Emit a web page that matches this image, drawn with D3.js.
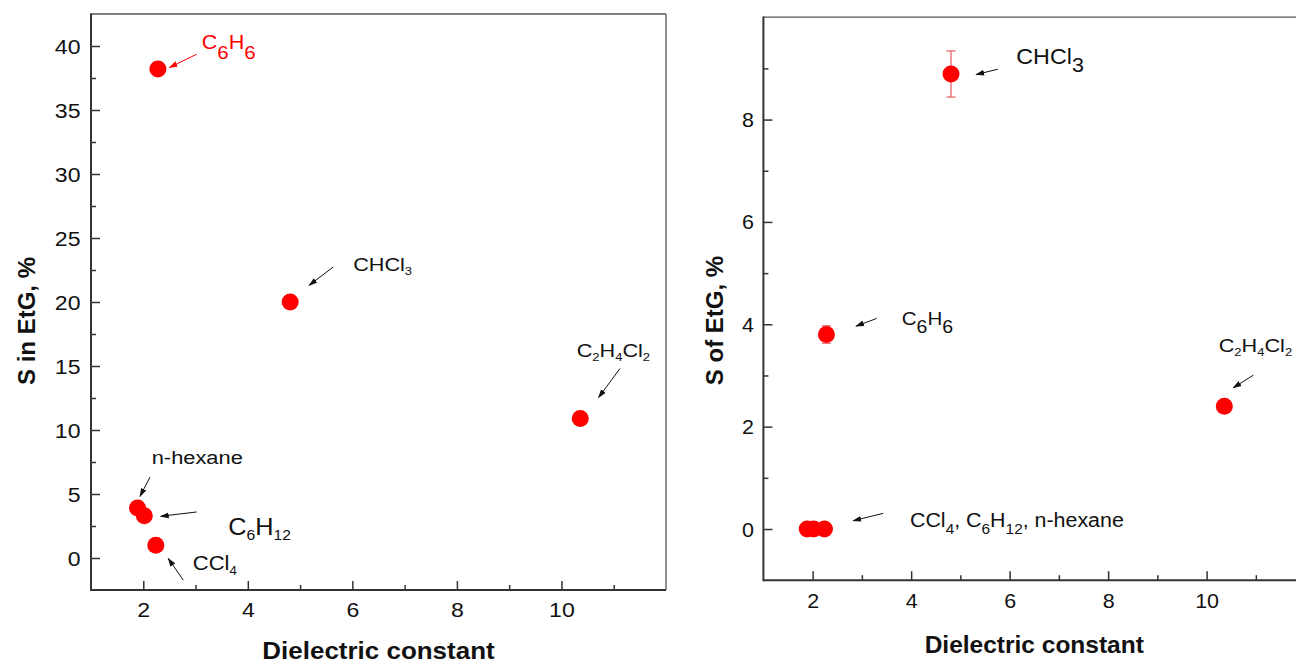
<!DOCTYPE html>
<html><head><meta charset="utf-8">
<script src="https://cdn.jsdelivr.net/npm/d3@7"></script>
<style>
body{margin:0;background:#fff}
svg{display:block;font-family:"Liberation Sans",Arial,sans-serif}
</style>
</head><body>
<svg id="c" width="1296" height="665"></svg>
<script>
// ---------- data ----------
const solvents   = ["n-hexane", "C6H12", "CCl4", "C6H6", "CHCl3", "C2H4Cl2"];
const dielectric = [1.89, 2.02, 2.24, 2.28, 4.81, 10.36];
const sInEtG     = [3.9, 3.3, 1.0, 38.2, 20.0, 10.9];
const sOfEtG     = [0, 0, 0, 3.8, 8.89, 2.4];
const sOfEtGErr  = [0, 0, 0, 0.17, 0.45, 0];
const xTicks      = [2, 4, 6, 8, 10];
const xMinorTicks = [3, 5, 7, 9, 11];
const leftYTicks      = [0, 5, 10, 15, 20, 25, 30, 35, 40];
const leftYMinorTicks = [2.5, 7.5, 12.5, 17.5, 22.5, 27.5, 32.5, 37.5];
const rightYTicks      = [0, 2, 4, 6, 8];
const rightYMinorTicks = [1, 3, 5, 7, 9];
const xTitle = "Dielectric constant";
const leftYTitle = "S in EtG, %";
const rightYTitle = "S of EtG, %";
const rightGroupLabel = "CCl4, C6H12, n-hexane";

// ---------- helpers ----------
const svg = d3.select("#c");
const RED = "#ff0000";

function parts(str){
  return str.split(/(\d+)/).filter(s => s.length).map(s => ({t: s, sub: /^\d+$/.test(s)}));
}
function rich(parent, x, y, str, o){
  const g = parent.append("g")
    .attr("transform", `translate(${x},${y}) ${o.rotate ? "rotate(" + o.rotate + ")" : ""} scale(${o.sx == null ? 1.12 : o.sx},1)`);
  const t = g.append("text")
    .attr("text-anchor", o.anchor || "start")
    .attr("font-size", o.size)
    .attr("font-weight", o.weight || "normal")
    .attr("fill", o.fill || "#111");
  let shift = 0;
  parts(str).forEach(p => {
    const ts = t.append("tspan").text(p.t);
    const target = p.sub ? (o.subDy || 0) : 0;
    if (target - shift !== 0) ts.attr("dy", target - shift);
    shift = target;
    if (p.sub) ts.attr("font-size", o.size * (o.subScale || 0.6));
  });
  return t;
}

const defs = svg.append("defs");
function marker(id, color){
  defs.append("marker").attr("id", id)
    .attr("markerUnits", "userSpaceOnUse")
    .attr("markerWidth", 9).attr("markerHeight", 7)
    .attr("refX", 8).attr("refY", 3.5).attr("orient", "auto")
    .append("path").attr("d", "M0,0.6 L9,3.5 L0,6.4 Z").attr("fill", color);
}
marker("arrK", "#111");
marker("arrR", RED);

function panel(cfg){
  const x = d3.scaleLinear().domain(cfg.xDomain).range(cfg.xRange);
  const y = d3.scaleLinear().domain(cfg.yDomain).range(cfg.yRange);
  const g = svg.append("g");
  const [x0, x1] = cfg.xRange, [y0, y1] = cfg.yRange;

  // ticks (inward)
  const styleAxis = sel => sel.attr("font-family", null).attr("font-size", null)
      .call(s => s.select(".domain").remove())
      .call(s => s.selectAll(".tick line").attr("stroke", "#333").attr("stroke-width", 1.5));

  g.append("g").attr("transform", `translate(0,${y0})`)
    .call(d3.axisBottom(x).tickValues(xMinorTicks).tickSize(-5).tickFormat(""))
    .call(styleAxis);
  g.append("g").attr("transform", `translate(0,${y0})`)
    .call(d3.axisBottom(x).tickValues(xTicks).tickSize(-9).tickFormat(d3.format("d")))
    .call(styleAxis)
    .call(s => s.selectAll(".tick text")
      .attr("y", cfg.xLabelBase).attr("dy", null)
      .attr("font-size", cfg.tickSize).attr("fill", "#111")
      .attr("transform", `scale(${cfg.tickSx},1)`));

  g.append("g").attr("transform", `translate(${x0},0)`)
    .call(d3.axisLeft(y).tickValues(cfg.yMinor).tickSize(-5).tickFormat(""))
    .call(styleAxis);
  g.append("g").attr("transform", `translate(${x0},0)`)
    .call(d3.axisLeft(y).tickValues(cfg.yTicks).tickSize(-9).tickFormat(d3.format("d")))
    .call(styleAxis)
    .call(s => s.selectAll(".tick text")
      .attr("x", -cfg.yLabelGap / cfg.tickSx).attr("dy", "0.36em")
      .attr("font-size", cfg.tickSize).attr("fill", "#111")
      .attr("transform", `scale(${cfg.tickSx},1)`));

  // frame
  g.append("line").attr("x1", x0).attr("x2", x1).attr("y1", y1).attr("y2", y1).attr("stroke", "#555").attr("stroke-width", 1.3);
  g.append("line").attr("x1", x1).attr("x2", x1).attr("y1", y1).attr("y2", y0).attr("stroke", "#555").attr("stroke-width", 1.3);
  g.append("line").attr("x1", x0).attr("x2", x1).attr("y1", y0).attr("y2", y0).attr("stroke", "#333").attr("stroke-width", 2);
  g.append("line").attr("x1", x0).attr("x2", x0).attr("y1", y1 - 0.6).attr("y2", y0 + 1).attr("stroke", "#333").attr("stroke-width", 2);

  // titles
  rich(g, (x0 + x1) / 2, cfg.xTitleBase, xTitle,
       {size: 24.5, weight: "bold", anchor: "middle", sx: cfg.xTitleSx, fill: "#111"});
  rich(g, cfg.yTitleX, cfg.yTitleY, cfg.yTitle,
       {size: 24, weight: "bold", anchor: "middle", rotate: -90, sx: 1, fill: "#111"});

  // data
  const pts = solvents.map((s, i) => ({s, x: dielectric[i], y: cfg.values[i], e: cfg.errors ? cfg.errors[i] : 0}));
  const eb = g.append("g").attr("stroke", "#e8636d").attr("stroke-width", 1.3);
  pts.filter(d => d.e > 0).forEach(d => {
    eb.append("line").attr("x1", x(d.x)).attr("x2", x(d.x)).attr("y1", y(d.y - d.e)).attr("y2", y(d.y + d.e));
    [d.y - d.e, d.y + d.e].forEach(v => eb.append("line")
      .attr("x1", x(d.x) - 4.5).attr("x2", x(d.x) + 4.5).attr("y1", y(v)).attr("y2", y(v)));
  });
  g.append("g").selectAll("circle").data(pts).join("circle")
    .attr("cx", d => x(d.x)).attr("cy", d => y(d.y)).attr("r", 8.5).attr("fill", RED);

  // annotations (offsets in px relative to the anchor point)
  cfg.notes.forEach(n => {
    const d = pts.find(p => p.s === n.anchor);
    const px = x(d.x), py = y(d.y);
    const col = n.red ? RED : "#111";
    g.append("line")
      .attr("x1", px + n.a[0]).attr("y1", py + n.a[1])
      .attr("x2", px + n.a[2]).attr("y2", py + n.a[3])
      .attr("stroke", col).attr("stroke-width", 1)
      .attr("marker-end", n.red ? "url(#arrR)" : "url(#arrK)");
    rich(g, px + n.t[0], py + n.t[1], n.label,
         {size: n.size, fill: col, subScale: n.subScale, subDy: n.subDy, sx: n.sx});
  });
}

// ---------- left panel ----------
panel({
  xDomain: [1, 12], xRange: [91, 666],
  yDomain: [-2.5, 42.5], yRange: [590, 14],
  yTicks: leftYTicks, yMinor: leftYMinorTicks,
  values: sInEtG,
  tickSize: 21, tickSx: 1.1, xLabelBase: 27, yLabelGap: 10.5,
  xTitleBase: 659, xTitleSx: 1.06,
  yTitle: leftYTitle, yTitleX: 35, yTitleY: 321,
  notes: [
    {anchor: "C6H6", label: "C6H6", red: true, a: [38.8, -14.8, 11.6, -1.6], t: [43.8, -20.5], size: 20, subScale: 0.95, subDy: 10, sx: 1.08},
    {anchor: "CHCl3", label: "CHCl3", a: [43, -35, 19, -16.7], t: [63, -31], size: 19, subScale: 0.6, subDy: 4, sx: 1.14},
    {anchor: "C2H4Cl2", label: "C2H4Cl2", a: [39.7, -50, 18.4, -21], t: [-3.6, -61.7], size: 19, subScale: 0.6, subDy: 4, sx: 1.14},
    {anchor: "n-hexane", label: "n-hexane", a: [12.5, -31, 2.5, -11.8], t: [14.2, -44.5], size: 19, sx: 1.15},
    {anchor: "C6H12", label: "C6H12", a: [52.4, -3.8, 16.4, 0.5], t: [84, 19.5], size: 23, subScale: 0.62, subDy: 5, sx: 1.1},
    {anchor: "CCl4", label: "CCl4", a: [27.5, 35, 12.5, 13.3], t: [37, 25], size: 20, subScale: 0.6, subDy: 5, sx: 1.1}
  ]
});

// ---------- right panel ----------
panel({
  xDomain: [1, 12], xRange: [763.4, 1305.1],
  yDomain: [-1, 10], yRange: [580.2, 17.2],
  yTicks: rightYTicks, yMinor: rightYMinorTicks,
  values: sOfEtG, errors: sOfEtGErr,
  tickSize: 19.5, tickSx: 1.1, xLabelBase: 28, yLabelGap: 9.5,
  xTitleBase: 653, xTitleSx: 1.0,
  yTitle: rightYTitle, yTitleX: 723, yTitleY: 320.5,
  notes: [
    {anchor: "CHCl3", label: "CHCl3", a: [46.8, -4.8, 25.2, 0.5], t: [65.2, -10.5], size: 22, subScale: 0.92, subDy: 8, sx: 1.06},
    {anchor: "C6H6", label: "C6H6", a: [50.3, -16.1, 29.6, -8.4], t: [75.3, -9.4], size: 19, subScale: 0.95, subDy: 8, sx: 1.08},
    {anchor: "C2H4Cl2", label: "C2H4Cl2", a: [29, -31, 9, -18.4], t: [-5.6, -54.4], size: 19, subScale: 0.6, subDy: 4, sx: 1.14},
    {anchor: "CCl4", label: rightGroupLabel, a: [58.8, -15.7, 28.8, -8.3], t: [85.5, -2.3], size: 20, subScale: 0.72, subDy: 7, sx: 1.07}
  ]
});
</script>
</body></html>
